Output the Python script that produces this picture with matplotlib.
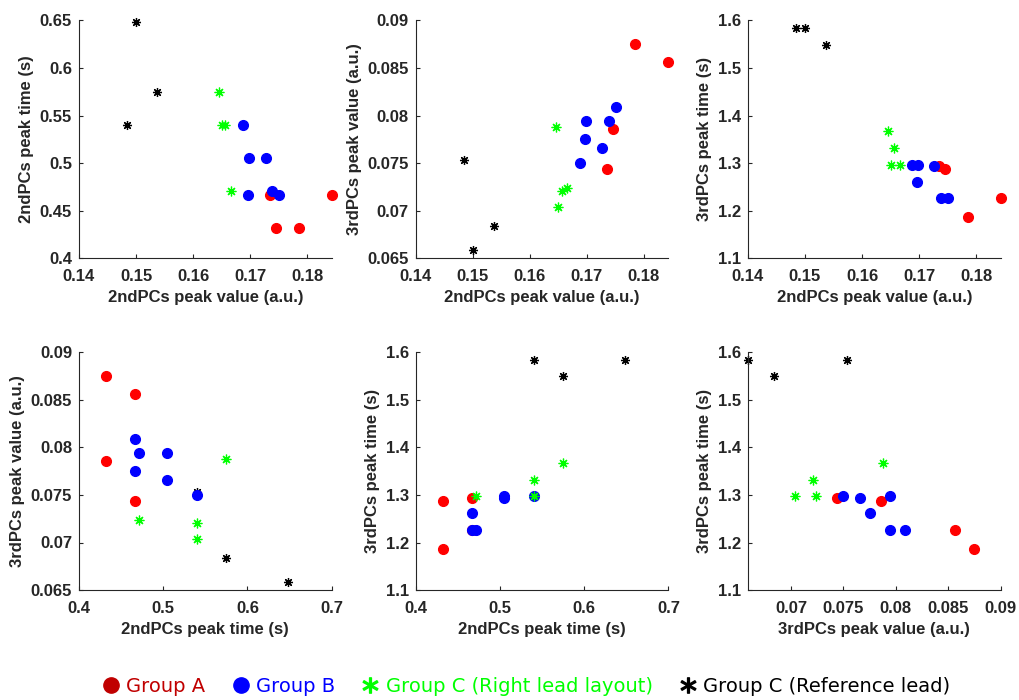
import matplotlib.pyplot as plt
from matplotlib.lines import Line2D

# Group A (red)
a_v2 = [0.1785, 0.1843, 0.1745, 0.1735]
a_t2 = [0.432, 0.467, 0.432, 0.467]
a_v3 = [0.0875, 0.0856, 0.0786, 0.0744]
a_t3 = [1.187, 1.226, 1.287, 1.293]

# Group B (blue)
b_v2 = [0.1688, 0.1698, 0.1727, 0.1696, 0.1739, 0.1751]
b_t2 = [0.540, 0.505, 0.505, 0.467, 0.471, 0.467]
b_v3 = [0.0750, 0.0794, 0.0766, 0.0775, 0.0794, 0.0809]
b_t3 = [1.297, 1.297, 1.294, 1.261, 1.226, 1.226]

# Group C, right lead layout (green)
g_v2 = [0.1645, 0.1650, 0.1656, 0.1666]
g_t2 = [0.575, 0.540, 0.540, 0.471]
g_v3 = [0.0788, 0.0704, 0.0721, 0.0724]
g_t3 = [1.368, 1.297, 1.332, 1.297]

# Group C, reference lead (black)
k_v2 = [0.1485, 0.1500, 0.1537]
k_t2 = [0.540, 0.648, 0.575]
k_v3 = [0.0753, 0.0659, 0.0684]
k_t3 = [1.583, 1.583, 1.549]

lbl_v2 = '2ndPCs peak value (a.u.)'
lbl_t2 = '2ndPCs peak time (s)'
lbl_v3 = '3rdPCs peak value (a.u.)'
lbl_t3 = '3rdPCs peak time (s)'

plt.rcParams['font.family'] = ['Liberation Sans', 'DejaVu Sans']
fig = plt.figure(figsize=(10.19, 7), dpi=100)

star = (8, 2, 0)
dark = '#262626'

def panel(rect, xi, yi, xlim, ylim, xt, yt, xl, yl):
    ax = fig.add_axes(rect)
    A = [a_v2, a_t2, a_v3, a_t3]
    B = [b_v2, b_t2, b_v3, b_t3]
    G = [g_v2, g_t2, g_v3, g_t3]
    K = [k_v2, k_t2, k_v3, k_t3]
    ax.plot(K[xi], K[yi], ls='none', marker=star, ms=6.5, mew=0.9, color='black', clip_on=False)
    ax.plot(A[xi], A[yi], 'o', ms=7, color='#FF0000', clip_on=False)
    ax.plot(B[xi], B[yi], 'o', ms=7, color='#0000FF', clip_on=False)
    ax.plot(G[xi], G[yi], ls='none', marker=star, ms=7, mew=0.9, color='#00FF00', clip_on=False)
    ax.set_xlim(xlim)
    ax.set_ylim(ylim)
    ax.set_xticks(xt)
    ax.set_yticks(yt)
    ax.set_xticklabels([('%g' % v) for v in xt])
    ax.set_yticklabels([('%g' % v) for v in yt])
    for s in ['top', 'right']:
        ax.spines[s].set_visible(False)
    for s in ['left', 'bottom']:
        ax.spines[s].set_color(dark)
        ax.spines[s].set_linewidth(0.8)
    ax.tick_params(direction='in', length=3, width=0.8, color=dark, labelcolor=dark, labelsize=12)
    ax.tick_params(axis='x', pad=8)
    ax.tick_params(axis='y', pad=5)
    for t in ax.get_xticklabels() + ax.get_yticklabels():
        t.set_fontweight('bold')
    ax.set_xlabel(xl, fontsize=12, fontweight='bold', color=dark, labelpad=4)
    ax.set_ylabel(yl, fontsize=12, fontweight='bold', color=dark, labelpad=4)
    return ax

W, H = 0.248, 0.34
x1, x2, x3 = 0.0775, 0.408, 0.734
y1, y2 = 0.631, 0.157

panel([x1, y1, W, H], 0, 1, (0.14, max(a_v2)), (0.4, 0.65),
      [0.14, 0.15, 0.16, 0.17, 0.18], [0.4, 0.45, 0.5, 0.55, 0.6, 0.65], lbl_v2, lbl_t2)
panel([x2, y1, W, H], 0, 2, (0.14, max(a_v2)), (0.065, 0.09),
      [0.14, 0.15, 0.16, 0.17, 0.18], [0.065, 0.07, 0.075, 0.08, 0.085, 0.09], lbl_v2, lbl_v3)
panel([x3, y1, W, H], 0, 3, (0.14, max(a_v2)), (1.1, 1.6),
      [0.14, 0.15, 0.16, 0.17, 0.18], [1.1, 1.2, 1.3, 1.4, 1.5, 1.6], lbl_v2, lbl_t3)
panel([x1, y2, W, H], 1, 2, (0.4, 0.7), (0.065, 0.09),
      [0.4, 0.5, 0.6, 0.7], [0.065, 0.07, 0.075, 0.08, 0.085, 0.09], lbl_t2, lbl_v3)
panel([x2, y2, W, H], 1, 3, (0.4, 0.7), (1.1, 1.6),
      [0.4, 0.5, 0.6, 0.7], [1.1, 1.2, 1.3, 1.4, 1.5, 1.6], lbl_t2, lbl_t3)
panel([x3, y2, W, H], 2, 3, (min(k_v3), 0.09), (1.1, 1.6),
      [0.07, 0.075, 0.08, 0.085, 0.09], [1.1, 1.2, 1.3, 1.4, 1.5, 1.6], lbl_v3, lbl_t3)

handles = [
    Line2D([], [], ls='none', marker='o', ms=11, color='#C00000'),
    Line2D([], [], ls='none', marker='o', ms=11, color='#0000FF'),
    Line2D([], [], ls='none', marker='$*$', ms=11, color='#00FF00'),
    Line2D([], [], ls='none', marker='$*$', ms=11, color='black'),
]
names = ['Group A', 'Group B', 'Group C (Right lead layout)', 'Group C (Reference lead)']
leg = fig.legend(handles, names, loc='center', bbox_to_anchor=(0.517, 0.02), ncol=4, frameon=False,
                 prop={'family': ['DejaVu Sans'], 'size': 14}, handlelength=0.8, handletextpad=0.4,
                 columnspacing=1.4)
for txt, c in zip(leg.get_texts(), ['#C00000', '#0000FF', '#00FF00', 'black']):
    txt.set_color(c)

fig.savefig('out.png', dpi=100)
